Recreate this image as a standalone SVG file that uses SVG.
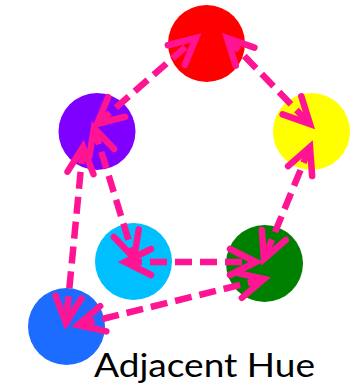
<svg xmlns="http://www.w3.org/2000/svg" width="361" height="386" viewBox="0 0 361 386">
  <style>
    .edge { fill: none; stroke: #FF1493; stroke-width: 6.5; stroke-dasharray: 17 8; marker-start: url(#head); marker-end: url(#head); }
    .label { font-family: Lato, "Liberation Sans", sans-serif; font-size: 33px; fill: #000; }
  </style>
  <defs>
    <marker id="head" markerUnits="userSpaceOnUse" viewBox="-34 -20 40 40" refX="0" refY="0" markerWidth="40" markerHeight="40" orient="auto-start-reverse" overflow="visible">
      <path d="M-26,-13 L0,0 L-26,13" fill="none" stroke="#FF1493" stroke-width="6.5" stroke-linecap="round" stroke-linejoin="miter"/>
    </marker>
  </defs>
  <g id="red"><circle cx="206.5" cy="43.5" r="38.5" fill="#FF0000"/></g>
  <g id="purple"><circle cx="97" cy="131.5" r="38.5" fill="#8000FF"/></g>
  <g id="yellow"><circle cx="311.5" cy="131.5" r="38.5" fill="#FFFF00"/></g>
  <g id="cyan"><circle cx="133.5" cy="261.5" r="38.5" fill="#00BFFF"/></g>
  <g id="green"><circle cx="264.5" cy="263.5" r="38.5" fill="#008000"/></g>
  <g id="blue"><circle cx="66.5" cy="326.5" r="38.5" fill="#1B6CFF"/></g>
  <g id="connectors">
    <line class="edge" x1="97" y1="124" x2="196" y2="38"/>
    <line class="edge" x1="227" y1="38" x2="310" y2="124"/>
    <line class="edge" x1="310" y1="147" x2="264" y2="259"/>
    <line class="edge" x1="94" y1="128" x2="134" y2="258"/>
    <line class="edge" x1="125" y1="262" x2="256" y2="262"/>
    <line class="edge" x1="83" y1="147" x2="66" y2="323"/>
    <line class="edge" x1="78" y1="325" x2="264" y2="279"/>
  </g>
  <g id="caption"><text class="label" x="94" y="377" textLength="221" lengthAdjust="spacingAndGlyphs">Adjacent Hue</text></g>
</svg>
